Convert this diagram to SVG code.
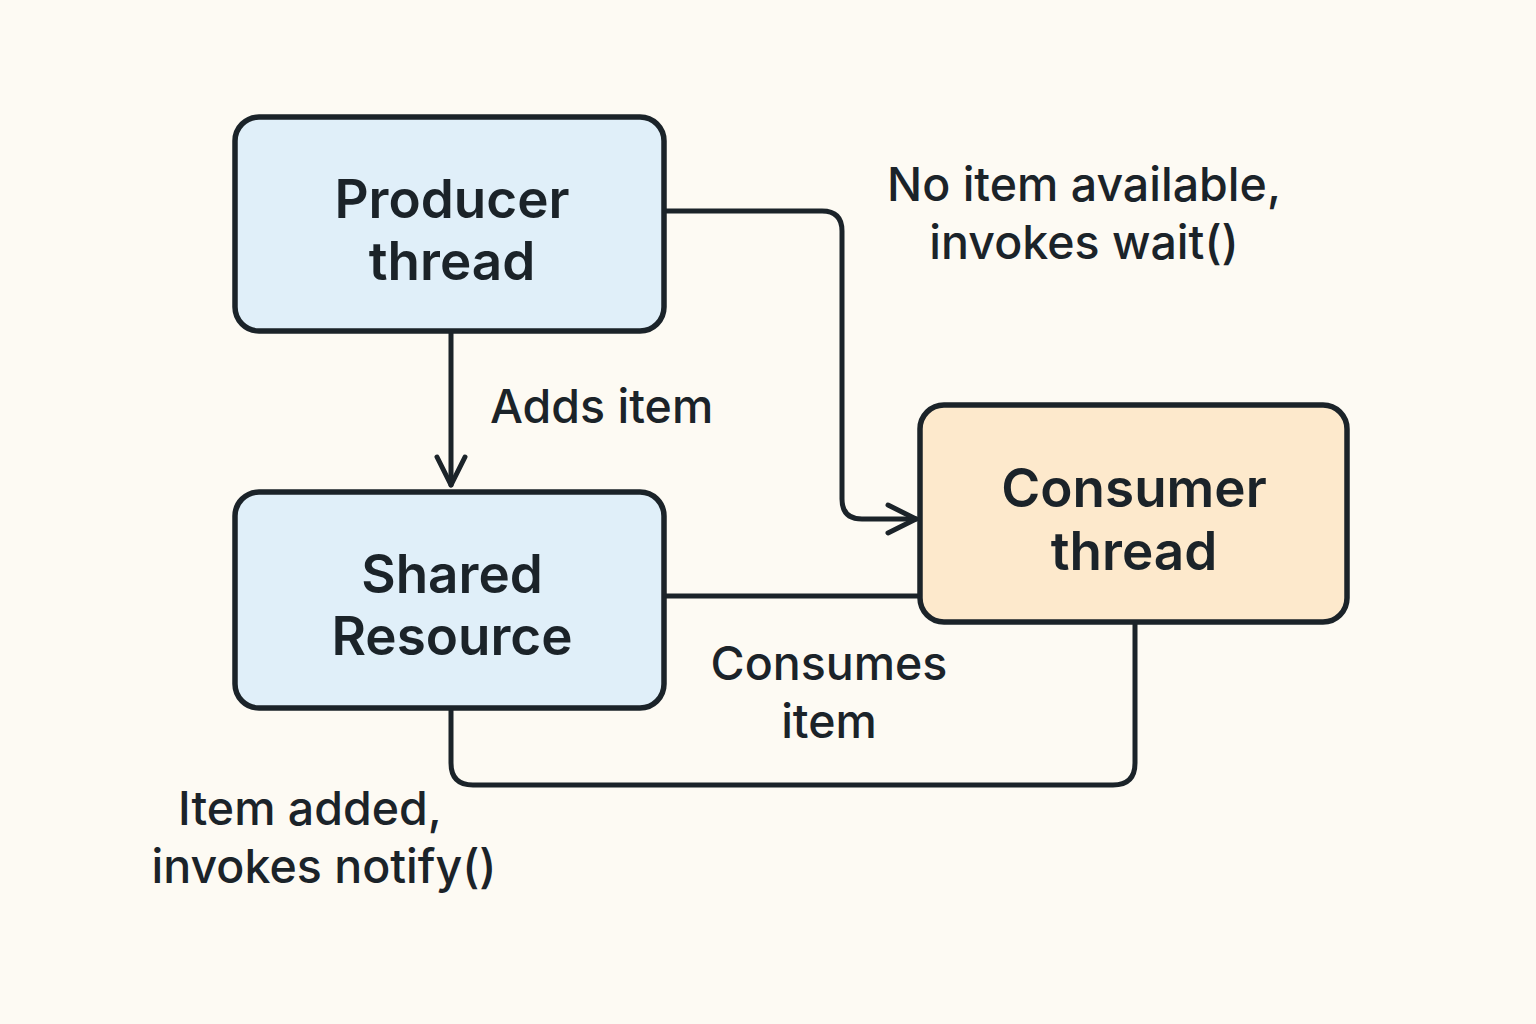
<svg xmlns="http://www.w3.org/2000/svg" width="1536" height="1024" viewBox="0 0 1536 1024">
<defs>
<style>
.box{stroke:#1b2329;stroke-width:5.5}
.blue{fill:#e0eff9}
.orange{fill:#fde9cc}
.title{font-family:Inter,"Noto Sans",sans-serif;font-weight:600;font-size:53px;fill:#1b2329;text-anchor:middle}
.lbl{font-family:Inter,"Noto Sans",sans-serif;font-weight:500;font-size:46.5px;fill:#1b2329;text-anchor:middle}
.conn{fill:none;stroke:#1b2329;stroke-width:5;stroke-linecap:round;stroke-linejoin:round}
</style>
<marker id="arr2" viewBox="0 0 36 36" refX="32" refY="18" markerWidth="36" markerHeight="36" markerUnits="userSpaceOnUse" orient="auto">
<path d="M4,4 L32,18 L4,32" fill="none" stroke="#1b2329" stroke-width="5" stroke-linecap="round" stroke-linejoin="round"/>
</marker>
</defs>
<rect width="1536" height="1024" fill="#fdfaf3"/>
<g id="connectors">
<path class="conn" d="M664,211 H822 Q842,211 842,231 V499 Q842,519 862,519 H916" marker-end="url(#arr2)"/>
<path class="conn" d="M451,331 V485" marker-end="url(#arr2)"/>
<path class="conn" d="M664,596 H920"/>
<path class="conn" d="M451,708 V763 Q451,785 473,785 H1113 Q1135,785 1135,763 V622"/>
</g>
<g id="producer">
<rect class="box blue" x="235" y="117" width="429" height="214" rx="24"/>
<text class="title" x="452" y="218">Producer</text>
<text class="title" x="452" y="280">thread</text>
</g>
<g id="shared">
<rect class="box blue" x="235" y="492" width="429" height="216" rx="24"/>
<text class="title" x="452" y="593">Shared</text>
<text class="title" x="452" y="655">Resource</text>
</g>
<g id="consumer">
<rect class="box orange" x="920" y="405" width="427" height="217" rx="24"/>
<text class="title" x="1134" y="507">Consumer</text>
<text class="title" x="1134" y="570">thread</text>
</g>
<g id="labels">
<text class="lbl" x="1084" y="201">No item available,</text>
<text class="lbl" x="1084" y="259">invokes wait()</text>
<text class="lbl" x="490" y="423" style="text-anchor:start">Adds item</text>
<text class="lbl" x="829" y="680">Consumes</text>
<text class="lbl" x="829" y="738">item</text>
<text class="lbl" x="310" y="825">Item added,</text>
<text class="lbl" x="324" y="883">invokes notify()</text>
</g>
</svg>
